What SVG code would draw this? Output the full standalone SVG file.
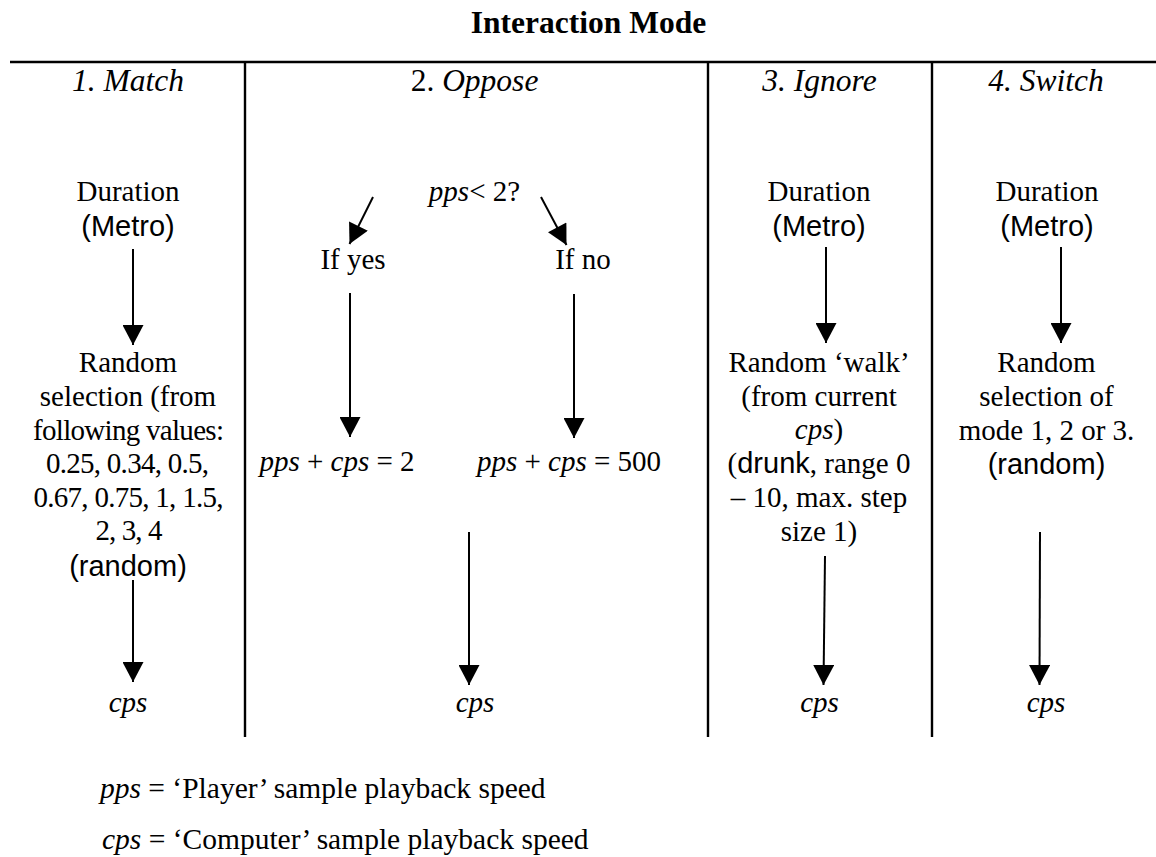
<svg xmlns="http://www.w3.org/2000/svg" width="1156" height="857" viewBox="0 0 1156 857">
<style>
.s{font-family:"Liberation Serif","Times New Roman",serif;font-size:29px;fill:#000;text-anchor:middle}
.h{font-family:"Liberation Serif","Times New Roman",serif;font-size:31.5px;font-style:italic;fill:#000;text-anchor:middle}
.t{font-family:"Liberation Serif","Times New Roman",serif;font-size:31.5px;font-weight:bold;fill:#000;text-anchor:middle}
.f{font-family:"Liberation Serif","Times New Roman",serif;font-size:29.5px;fill:#000}
.a{font-family:"Liberation Sans",Arial,sans-serif}
.i{font-style:italic}
.n{font-style:normal}
.rule{stroke:#000;stroke-width:2.4;fill:none}
.con{stroke:#000;stroke-width:2;fill:none;marker-end:url(#ah)}
</style>
<defs>
<marker id="ah" markerUnits="userSpaceOnUse" markerWidth="21" markerHeight="21" refX="20" refY="10.5" orient="auto" viewBox="0 0 20 21">
<path d="M0,0 L20,10.5 L0,21 z" fill="#000"/>
</marker>
</defs>
<rect width="1156" height="857" fill="#fff"/>
<g id="table">
<line class="rule" x1="10" y1="62" x2="1156" y2="62"/>
<line class="rule" x1="245" y1="62" x2="245" y2="737"/>
<line class="rule" x1="708" y1="62" x2="708" y2="737"/>
<line class="rule" x1="932" y1="62" x2="932" y2="737"/>
</g>
<g id="title"><text class="t" x="588.5" y="33">Interaction Mode</text></g>
<g id="headers">
<text class="h" x="128" y="91">1. Match</text>
<text class="h" x="474.5" y="91"><tspan class="n">2.</tspan> Oppose</text>
<text class="h" x="819.5" y="91">3. Ignore</text>
<text class="h" x="1046" y="91">4. Switch</text>
</g>
<g id="match-duration"><text class="s" x="128" y="201">Duration</text><text class="s a" x="128" y="236">(Metro)</text></g>
<g id="match-random">
<text class="s" x="128" y="372">Random</text>
<text class="s" x="128" y="406">selection (from</text>
<text class="s" x="128.5" y="440" textLength="191">following values:</text>
<text class="s" x="127.5" y="473" textLength="163">0.25, 0.34, 0.5,</text>
<text class="s" x="128.5" y="507" textLength="190">0.67, 0.75, 1, 1.5,</text>
<text class="s" x="129" y="540" textLength="67">2, 3, 4</text>
<text class="s a" x="128" y="576">(random)</text>
</g>
<g id="match-cps"><text class="s i" x="128" y="712">cps</text></g>
<g id="oppose-test"><text class="s" x="474.5" y="201"><tspan class="i">pps</tspan>&lt; 2?</text></g>
<g id="oppose-yes"><text class="s" x="353" y="269">If yes</text></g>
<g id="oppose-no"><text class="s" x="583" y="269">If no</text></g>
<g id="oppose-yes-eq"><text class="s" x="337" y="471"><tspan class="i">pps</tspan> + <tspan class="i">cps</tspan> = 2</text></g>
<g id="oppose-no-eq"><text class="s" x="569" y="471"><tspan class="i">pps</tspan> + <tspan class="i">cps</tspan> = 500</text></g>
<g id="oppose-cps"><text class="s i" x="475" y="712">cps</text></g>
<g id="ignore-duration"><text class="s" x="819" y="201">Duration</text><text class="s a" x="819" y="236">(Metro)</text></g>
<g id="ignore-walk">
<text class="s" x="819" y="372">Random ‘walk’</text>
<text class="s" x="819" y="406">(from current</text>
<text class="s" x="819" y="439"><tspan class="i">cps</tspan>)</text>
<text class="s" x="819" y="473">(<tspan class="a">drunk</tspan>, range 0</text>
<text class="s" x="819" y="507">– 10, max. step</text>
<text class="s" x="819" y="541">size 1)</text>
</g>
<g id="ignore-cps"><text class="s i" x="819.5" y="712">cps</text></g>
<g id="switch-duration"><text class="s" x="1047" y="201">Duration</text><text class="s a" x="1047" y="236">(Metro)</text></g>
<g id="switch-random">
<text class="s" x="1046.5" y="372">Random</text>
<text class="s" x="1046.5" y="406">selection of</text>
<text class="s" x="1046.5" y="440">mode 1, 2 or 3.</text>
<text class="s a" x="1046.5" y="474">(random)</text>
</g>
<g id="switch-cps"><text class="s i" x="1046" y="712">cps</text></g>
<g id="connectors">
<line class="con" x1="133" y1="249" x2="133" y2="345"/>
<line class="con" x1="133" y1="580" x2="133" y2="682"/>
<line class="con" x1="373" y1="197" x2="349.5" y2="244"/>
<line class="con" x1="541" y1="197" x2="566.5" y2="245"/>
<line class="con" x1="350" y1="293" x2="350" y2="437"/>
<line class="con" x1="574" y1="294" x2="574" y2="438"/>
<line class="con" x1="469" y1="532" x2="469" y2="685"/>
<line class="con" x1="826" y1="247" x2="826" y2="343"/>
<line class="con" x1="825" y1="556" x2="823.5" y2="685"/>
<line class="con" x1="1061" y1="247" x2="1061" y2="343"/>
<line class="con" x1="1040" y1="532" x2="1039.5" y2="685"/>
</g>
<g id="legend">
<text class="f" x="100" y="798"><tspan class="i">pps</tspan> = ‘Player’ sample playback speed</text>
<text class="f" x="102" y="849"><tspan class="i">cps</tspan> = ‘Computer’ sample playback speed</text>
</g>
</svg>
